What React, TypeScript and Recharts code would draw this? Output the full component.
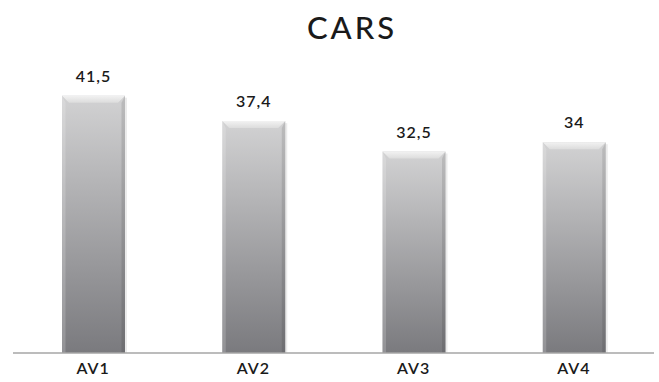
import { BarChart, Bar, XAxis, YAxis, LabelList } from 'recharts';

const categories = ['AV1', 'AV2', 'AV3', 'AV4'];
const values = [41.5, 37.4, 32.5, 34];

const data = categories.map((name, i) => ({ name, value: values[i] }));

const BevelBar = (props: any) => {
  const { x, y, width, height } = props;
  if (!height || height <= 0) return null;
  const b = 7;
  return (
    <g>
      <rect x={x + 2} y={y + 2} width={width} height={height - 2} fill="#000" opacity={0.08} />
      <rect x={x} y={y} width={width} height={height} fill="url(#barBody)" />
      {/* top bevel */}
      <polygon
        points={`${x},${y} ${x + width},${y} ${x + width - b},${y + b} ${x + b},${y + b}`}
        fill="url(#barTop)"
      />
      <polygon
        points={`${x},${y} ${x + b * 0.5},${y + b} ${x + b * 0.5},${y + height} ${x},${y + height}`}
        fill="#fff"
        opacity={0.18}
      />
      <polygon
        points={`${x + width},${y} ${x + width - b * 0.5},${y + b} ${x + width - b * 0.5},${y + height} ${x + width},${y + height}`}
        fill="#000"
        opacity={0.1}
      />
    </g>
  );
};

export default function App() {
  return (
    <div style={{ position: 'absolute', left: 0, top: 0, width: 659, height: 382, background: '#fff', fontFamily: 'Lato, sans-serif' }}>
      <div
        style={{
          position: 'absolute',
          left: 0,
          width: 704,
          top: 8,
          textAlign: 'center',
          fontSize: 31,
          fontWeight: 500,
          letterSpacing: 3,
          color: '#1a1a1a',
          lineHeight: '38px',
        }}
      >
        CARS
      </div>
      <BarChart
        width={659}
        height={382}
        data={data}
        margin={{ top: 43, right: 5, left: 13, bottom: 0 }}
        barCategoryGap={0}
      >
        <defs>
          <linearGradient id="barBody" x1="0" y1="0" x2="0" y2="1">
            <stop offset="0%" stopColor="#d2d2d3" />
            <stop offset="100%" stopColor="#7a7a7e" />
          </linearGradient>
          <linearGradient id="barTop" x1="0" y1="0" x2="0" y2="1">
            <stop offset="0%" stopColor="#f2f2f2" />
            <stop offset="100%" stopColor="#dcdcdc" />
          </linearGradient>
        </defs>
        <XAxis
          dataKey="name"
          height={29}
          axisLine={{ stroke: '#a6a6a6', strokeWidth: 1.5 }}
          tickLine={false}
          tick={{ fill: '#1a1a1a', fontSize: 16, fontWeight: 600, letterSpacing: 1 }}
          tickMargin={4}
        />
        <YAxis hide domain={[0, 50]} />
        <Bar dataKey="value" barSize={63} shape={BevelBar} isAnimationActive={false}>
          <LabelList
            dataKey="value"
            position="top"
            offset={14}
            formatter={(v: any) => String(v).replace('.', ',')}
            style={{ fill: '#1a1a1a', fontSize: 16, fontWeight: 600, letterSpacing: 1 }}
          />
        </Bar>
      </BarChart>
    </div>
  );
}
